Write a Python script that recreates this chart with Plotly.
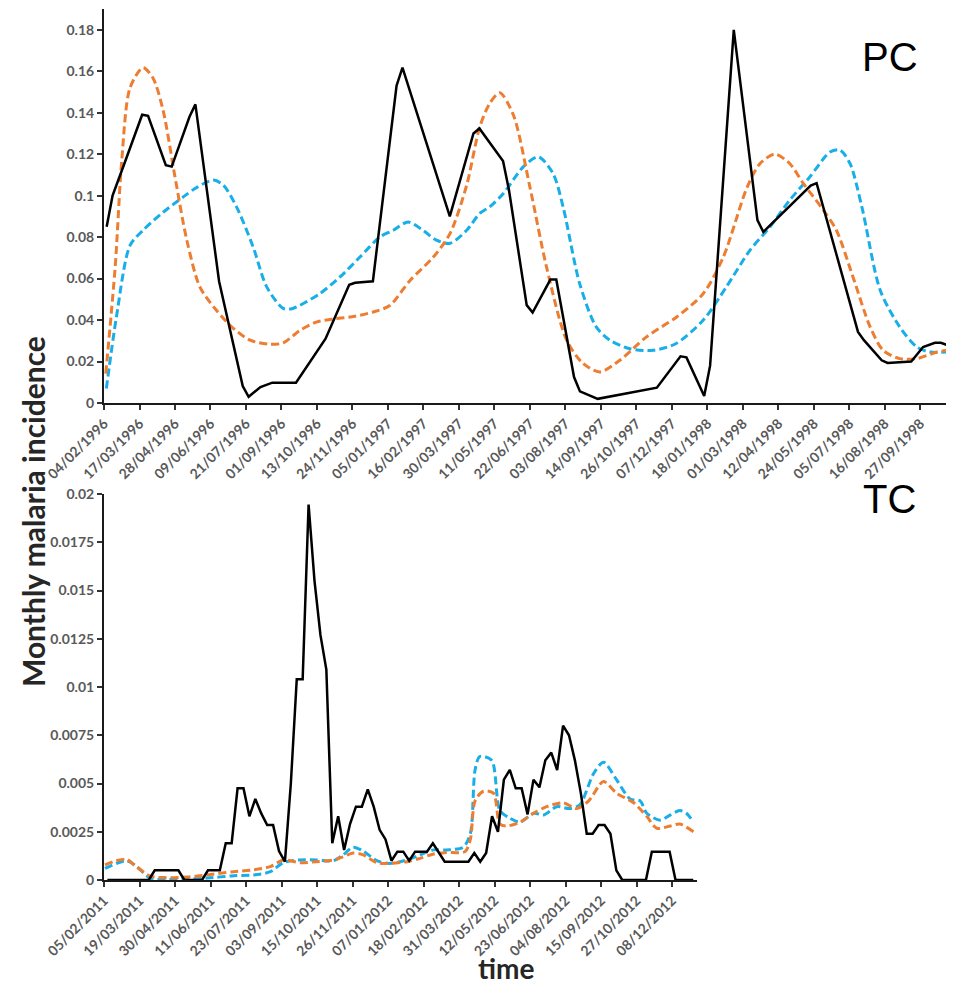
import numpy as np
import pandas as pd
import plotly.graph_objects as go

W, H = 954, 985
OFF = 8  # page body margin shift compensation (px)

# ---------------- PC (top) data: x in weeks since 04/02/1996 ----------------
pc_start = "1996-02-04"
pc_obs_w = [0.45, 1.45, 3.45, 6.45, 7.45, 10.45, 11.45, 14.45, 15.45, 19.45, 23.45, 24.45,
            26.45, 28.45, 32.45, 37.45, 41.45, 42.45, 45.45, 49.45, 50.45, 58.45, 62.45,
            63.45, 67.45, 68.45, 71.45, 72.45, 75.45, 76.45, 79.45, 80.45, 83.45, 93.45,
            97.45, 98.45, 101.45, 102.45, 106.45, 110.45, 111.45, 119.45, 120.45, 127.45,
            128.45, 131.45, 132.45, 136.45, 138.45, 140.45, 141.45, 142.45]
pc_obs_v = [0.085, 0.100, 0.1155, 0.139, 0.1385, 0.1147, 0.114, 0.138, 0.144, 0.0587, 0.0082, 0.003,
            0.0077, 0.0098, 0.0098, 0.031, 0.057, 0.058, 0.0587, 0.153, 0.1617, 0.090, 0.130,
            0.1324, 0.1167, 0.1027, 0.0472, 0.0436, 0.0595, 0.0595, 0.0125, 0.0056, 0.002, 0.0074,
            0.0225, 0.022, 0.0034, 0.018, 0.1799, 0.0882, 0.0825, 0.1048, 0.106, 0.0343,
            0.0303, 0.0206, 0.0193, 0.020, 0.027, 0.029, 0.029, 0.028]

pc_or_w = [0.3, 1.9, 3.0, 4.4, 6.6, 8.3, 10.0, 12.0, 14.0, 16.2, 19.0, 21.9, 24.7, 28.1, 30.3,
           33.1, 35.9, 38.7, 42.4, 45.5, 48.3, 51.7, 55.7, 58.5, 61.3, 63.5, 65.2, 66.9, 69.2,
           72.0, 74.8, 78.2, 81.0, 83.8, 87.2, 91.7, 96.8, 101.3, 104.7, 108.7, 110.9, 113.4,
           115.9, 118.2, 121.6, 123.8, 126.6, 129.5, 131.7, 134.5, 137.4, 140.8, 142.7]
pc_or_v = [0.0142, 0.066, 0.117, 0.152, 0.1617, 0.1566, 0.141, 0.109, 0.0785, 0.056, 0.0447,
           0.0359, 0.0303, 0.0283, 0.029, 0.035, 0.039, 0.0405, 0.0418, 0.0439, 0.047, 0.059,
           0.0705, 0.0818, 0.105, 0.133, 0.1445, 0.1496, 0.1389, 0.104, 0.0656, 0.0303, 0.019,
           0.015, 0.0206, 0.0319, 0.0415, 0.0528, 0.0705, 0.104, 0.1155, 0.120, 0.1155, 0.1059,
           0.093, 0.0833, 0.0608, 0.0367, 0.0254, 0.0214, 0.0214, 0.0246, 0.0254]

pc_bl_w = [0.4, 2.1, 4.4, 6.6, 10.0, 13.4, 15.7, 18.5, 20.2, 22.4, 25.2, 27.5, 30.3, 31.9,
           36.5, 39.9, 43.3, 46.6, 48.9, 51.4, 53.9, 56.2, 58.5, 61.3, 63.5, 65.2, 67.5, 70.9,
           73.4, 75.9, 77.6, 80.4, 83.2, 85.5, 88.9, 92.8, 96.7, 101.3, 105.2, 109.2, 112.6,
           115.9, 119.3, 122.7, 124.4, 126.1, 128.1, 131.2, 134.5, 137.4, 139.6, 142.7]
pc_bl_v = [0.007, 0.0415, 0.076, 0.0833, 0.092, 0.0994, 0.104, 0.1075, 0.105, 0.0946, 0.0753,
           0.056, 0.0456, 0.0456, 0.0528, 0.0608, 0.0705, 0.080, 0.0833, 0.0873, 0.0833, 0.0785,
           0.077, 0.0833, 0.0914, 0.0946, 0.101, 0.114, 0.1187, 0.1107, 0.0946, 0.0576, 0.0367,
           0.0303, 0.0262, 0.0254, 0.0287, 0.040, 0.056, 0.0737, 0.085, 0.0978, 0.109, 0.121,
           0.122, 0.1155, 0.0946, 0.0544, 0.0367, 0.027, 0.0246, 0.0246]

pc_ytickvals = [0, 0.02, 0.04, 0.06, 0.08, 0.1, 0.12, 0.14, 0.16, 0.18]
pc_yticktext = ["0", "0.02", "0.04", "0.06", "0.08", "0.1", "0.12", "0.14", "0.16", "0.18"]

# ---------------- TC (bottom) data: weekly, first week at 0.57 wk after 05/02/2011 -----
tc_start = "2011-02-05"
tc_obs_v = [0, 0, 0, 0, 0, 0, 0, 0, 0.0005, 0.0005,
            0.0005, 0.0005, 0.0005, 0, 0, 0, 0, 0.0005, 0.0005, 0.0005,
            0.0019, 0.0019, 0.00475, 0.00475, 0.0033, 0.0042, 0.00345, 0.00285, 0.00285, 0.0015,
            0.00095, 0.005, 0.0104, 0.0104, 0.01945, 0.0155, 0.0127, 0.0109, 0.0019, 0.0033,
            0.00155, 0.0029, 0.0038, 0.0038, 0.0047, 0.0038, 0.0026, 0.0021, 0.001, 0.00147,
            0.00147, 0.001, 0.00147, 0.00147, 0.00147, 0.0019, 0.0014, 0.00095, 0.00095, 0.00095,
            0.00095, 0.00095, 0.0014, 0.00095, 0.0014, 0.0033, 0.0025, 0.0052, 0.0057, 0.00475,
            0.00475, 0.0034, 0.0052, 0.0048, 0.0062, 0.0066, 0.0057, 0.0080, 0.0075, 0.0062,
            0.0045, 0.0024, 0.0024, 0.00285, 0.00285, 0.0024, 0.0005, 0, 0, 0,
            0, 0, 0.00147, 0.00147, 0.00147, 0.00147, 0, 0, 0, 0]
tc_obs_offset = 0.57

tc_or_w = [0.17, 2.1, 3.8, 5.5, 7.8, 10.6, 14.0, 17.4, 21.9, 25.2, 28.1, 30.3, 33.1, 35.9,
           38.8, 40.4, 42.1, 43.8, 46.1, 48.3, 51.2, 53.4, 55.7, 57.9, 61.0, 61.9, 62.7, 64.1,
           65.8, 66.9, 68.1, 70.3, 72.6, 74.8, 77.6, 79.9, 81.9, 84.4, 86.6, 89.5, 91.7, 93.4,
           95.7, 97.3, 99.6]
tc_or_v = [0.00078, 0.001, 0.00107, 0.00069, 0.0002, 0.00012, 0.00015, 0.00026, 0.00043,
           0.00052, 0.00069, 0.00104, 0.0009, 0.00095, 0.00104, 0.0012, 0.0014, 0.0013, 0.0009,
           0.00086, 0.00095, 0.00112, 0.00135, 0.00143, 0.00147, 0.0021, 0.0041, 0.0046,
           0.0045, 0.0029, 0.0028, 0.003, 0.00346, 0.0038, 0.004, 0.0037, 0.0041, 0.0051,
           0.0045, 0.004, 0.0033, 0.00268, 0.0028, 0.0029, 0.0025]

tc_bl_w = [0.17, 2.1, 3.8, 5.5, 7.8, 10.6, 14.0, 17.4, 21.9, 25.2, 28.1, 30.3, 33.1, 35.9,
           38.8, 40.4, 42.1, 43.8, 46.1, 48.3, 51.2, 53.4, 55.7, 57.9, 60.7, 61.9, 62.7, 63.5,
           65.5, 66.9, 68.6, 70.3, 72.6, 74.3, 76.5, 78.7, 80.4, 82.7, 84.4, 86.6, 88.9, 90.6,
           91.7, 94.0, 95.7, 97.3, 98.4, 99.6]
tc_bl_v = [0.0006, 0.00086, 0.001, 0.0007, 0.0001, 0.00003, 0.00003, 0.0001, 0.00022, 0.00026,
           0.00043, 0.0009, 0.00104, 0.00104, 0.001, 0.0013, 0.0017, 0.0015, 0.001, 0.00086,
           0.00104, 0.0013, 0.00156, 0.00156, 0.0017, 0.0024, 0.0057, 0.0064, 0.0062, 0.0036,
           0.0032, 0.003, 0.00346, 0.00337, 0.0038, 0.0037, 0.0039, 0.0055, 0.0061, 0.0052,
           0.0042, 0.0041, 0.00346, 0.0031, 0.00337, 0.0036, 0.00346, 0.003]

tc_ytickvals = [0, 0.0025, 0.005, 0.0075, 0.01, 0.0125, 0.015, 0.0175, 0.02]
tc_yticktext = ["0", "0.0025", "0.005", "0.0075", "0.01", "0.0125", "0.015", "0.0175", "0.02"]

# colours
C_OBS = "#000000"
C_OR = "#ED7D31"
C_BL = "#18AEE8"


def wk2date(start, weeks):
    return pd.Timestamp(start) + pd.to_timedelta(np.asarray(weeks, dtype=float) * 7, unit="D")


def px(x):
    return (x - OFF) / W


def py(y):
    return 1 - (y - OFF) / H


fig = go.Figure()

# top
fig.add_trace(go.Scatter(x=wk2date(pc_start, pc_bl_w), y=pc_bl_v, mode="lines",
                         line=dict(color=C_BL, width=3, dash="8px,4px", shape="spline", smoothing=0.8),
                         xaxis="x", yaxis="y"))
fig.add_trace(go.Scatter(x=wk2date(pc_start, pc_or_w), y=pc_or_v, mode="lines",
                         line=dict(color=C_OR, width=3, dash="8px,4px", shape="spline", smoothing=0.8),
                         xaxis="x", yaxis="y"))
fig.add_trace(go.Scatter(x=wk2date(pc_start, pc_obs_w), y=pc_obs_v, mode="lines",
                         line=dict(color=C_OBS, width=2.5), xaxis="x", yaxis="y"))

# bottom
tc_obs_w = np.arange(len(tc_obs_v)) + tc_obs_offset
fig.add_trace(go.Scatter(x=wk2date(tc_start, tc_bl_w), y=tc_bl_v, mode="lines",
                         line=dict(color=C_BL, width=3, dash="8px,4px", shape="spline", smoothing=0.8),
                         xaxis="x2", yaxis="y2"))
fig.add_trace(go.Scatter(x=wk2date(tc_start, tc_or_w), y=tc_or_v, mode="lines",
                         line=dict(color=C_OR, width=3, dash="8px,4px", shape="spline", smoothing=0.8),
                         xaxis="x2", yaxis="y2"))
fig.add_trace(go.Scatter(x=wk2date(tc_start, tc_obs_w), y=tc_obs_v, mode="lines",
                         line=dict(color=C_OBS, width=2.5), xaxis="x2", yaxis="y2"))

tickfont = dict(family="Lato", size=14, color="#595959", weight="bold")
DAY_MS = 86400000

xcommon = dict(type="date", tickformat="%d/%m/%Y", dtick=42 * DAY_MS, tickangle=-45,
               showline=True, linecolor="#1a1a1a", linewidth=2, ticks="outside",
               ticklen=5, tickwidth=1.5, tickcolor="#333333", showgrid=False, zeroline=False,
               tickfont=tickfont, automargin=False)
ycommon = dict(showline=True, linecolor="#1a1a1a", linewidth=2, ticks="outside", ticklen=5,
               tickwidth=1.5, tickcolor="#333333", showgrid=False, zeroline=False,
               tickfont=tickfont, automargin=False)

top_x_end = pd.Timestamp(pc_start) + pd.Timedelta(days=143.0 * 7)
bot_x_end = pd.Timestamp(tc_start) + pd.Timedelta(days=100.2 * 7)

fig.update_layout(
    width=W, height=H, margin=dict(l=0, r=0, t=0, b=0, autoexpand=False),
    paper_bgcolor="white", plot_bgcolor="white", showlegend=False,
    xaxis=dict(domain=[px(104), px(950)], anchor="y", tick0=pc_start,
               range=[pd.Timestamp(pc_start), top_x_end], **xcommon),
    yaxis=dict(domain=[py(403), py(9)], anchor="x", range=[0, 0.19],
               tickvals=pc_ytickvals, ticktext=pc_yticktext, **ycommon),
    xaxis2=dict(domain=[px(104), px(697)], anchor="y2", tick0=tc_start,
                range=[pd.Timestamp(tc_start), bot_x_end], **xcommon),
    yaxis2=dict(domain=[py(880), py(494)], anchor="x2", range=[0, 0.02],
                tickvals=tc_ytickvals, ticktext=tc_yticktext, **ycommon),
    annotations=[
        dict(text="Monthly malaria incidence", xref="paper", yref="paper", x=px(33), y=py(512),
             textangle=-90, showarrow=False, xanchor="center", yanchor="middle",
             font=dict(family="Lato", size=30, color="#262626", weight="bold")),
        dict(text="time", xref="paper", yref="paper", x=px(506), y=py(968),
             showarrow=False, xanchor="center", yanchor="middle",
             font=dict(family="Lato", size=28, color="#262626", weight="bold")),
        dict(text="PC", xref="paper", yref="paper", x=px(890), y=py(57),
             showarrow=False, xanchor="center", yanchor="middle",
             font=dict(family="Liberation Sans", size=40, color="#000000")),
        dict(text="TC", xref="paper", yref="paper", x=px(889), y=py(499),
             showarrow=False, xanchor="center", yanchor="middle",
             font=dict(family="Liberation Sans", size=40, color="#000000")),
    ],
)

fig.write_html("out.html")
